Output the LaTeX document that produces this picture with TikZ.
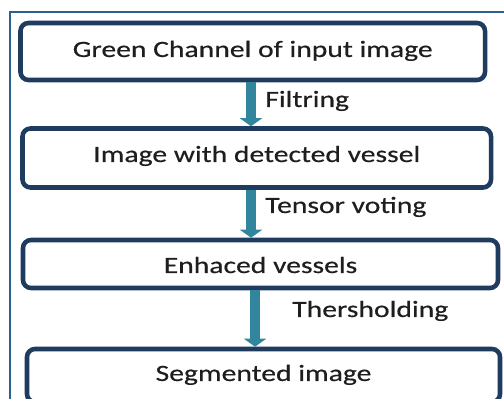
\documentclass[tikz,border=0pt]{standalone}
\usepackage{fontspec}
\setmainfont{Carlito}[FakeStretch=1.27, FakeBold=0.4]
\usetikzlibrary{arrows.meta}
\definecolor{boxline}{HTML}{1F3B5E}
\definecolor{flowcol}{HTML}{31859C}
\definecolor{framecol}{HTML}{2F5E91}
\definecolor{txtcol}{HTML}{1E1E1E}
\tikzset{
  stagebox/.style={draw=boxline, line width=3.4pt, rounded corners=6pt, fill=white,
    inner sep=0pt, text=txtcol, font=\fontsize{17.5}{20}\selectfont,
    text height=12.2pt, text depth=4pt},
  flow/.style={draw=flowcol, line width=7.5pt,
    -{Triangle[length=6pt, width=16.5pt, fill=flowcol]}},
  steplabel/.style={anchor=base west, inner sep=0pt, text=txtcol,
    font=\fontsize{17.5}{20}\selectfont}
}
\begin{document}
\begin{tikzpicture}[x=0.75pt, y=-0.75pt]
\useasboundingbox (0,0) rectangle (504,399);
\draw[framecol, line width=1pt] (10,12) rectangle (530,430);
\node[stagebox, minimum width=348.4pt, minimum height=42.75pt] (b1) at (252.75,51.5) {Green Channel of input image};
\node[stagebox, minimum width=351.4pt, minimum height=44.25pt, text depth=6.2pt] (b2) at (256.75,158) {Image with detected vessel};
\node[stagebox, minimum width=356.25pt, minimum height=36pt, text height=17.5pt] (b3) at (260.5,264) {Enhaced vessels};
\node[stagebox, minimum width=354.75pt, minimum height=39.75pt] (b4) at (263.5,375.5) {Segmented image};
\draw[flow] ([xshift=-1.3pt]b1.south) -- ([xshift=-1.3pt]b1.south |- b2.north);
\draw[flow] ([xshift=-4.3pt]b2.south) -- ([xshift=-4.3pt]b2.south |- b3.north);
\draw[flow] ([xshift=-4.1pt]b3.south) -- ([xshift=-4.1pt]b3.south |- b4.north);
\node[steplabel] (l1) at (265,107) {Filtring};
\node[steplabel] (l2) at (265,213) {Tensor voting};
\node[steplabel] (l3) at (292,317) {Thersholding};
\end{tikzpicture}
\end{document}
